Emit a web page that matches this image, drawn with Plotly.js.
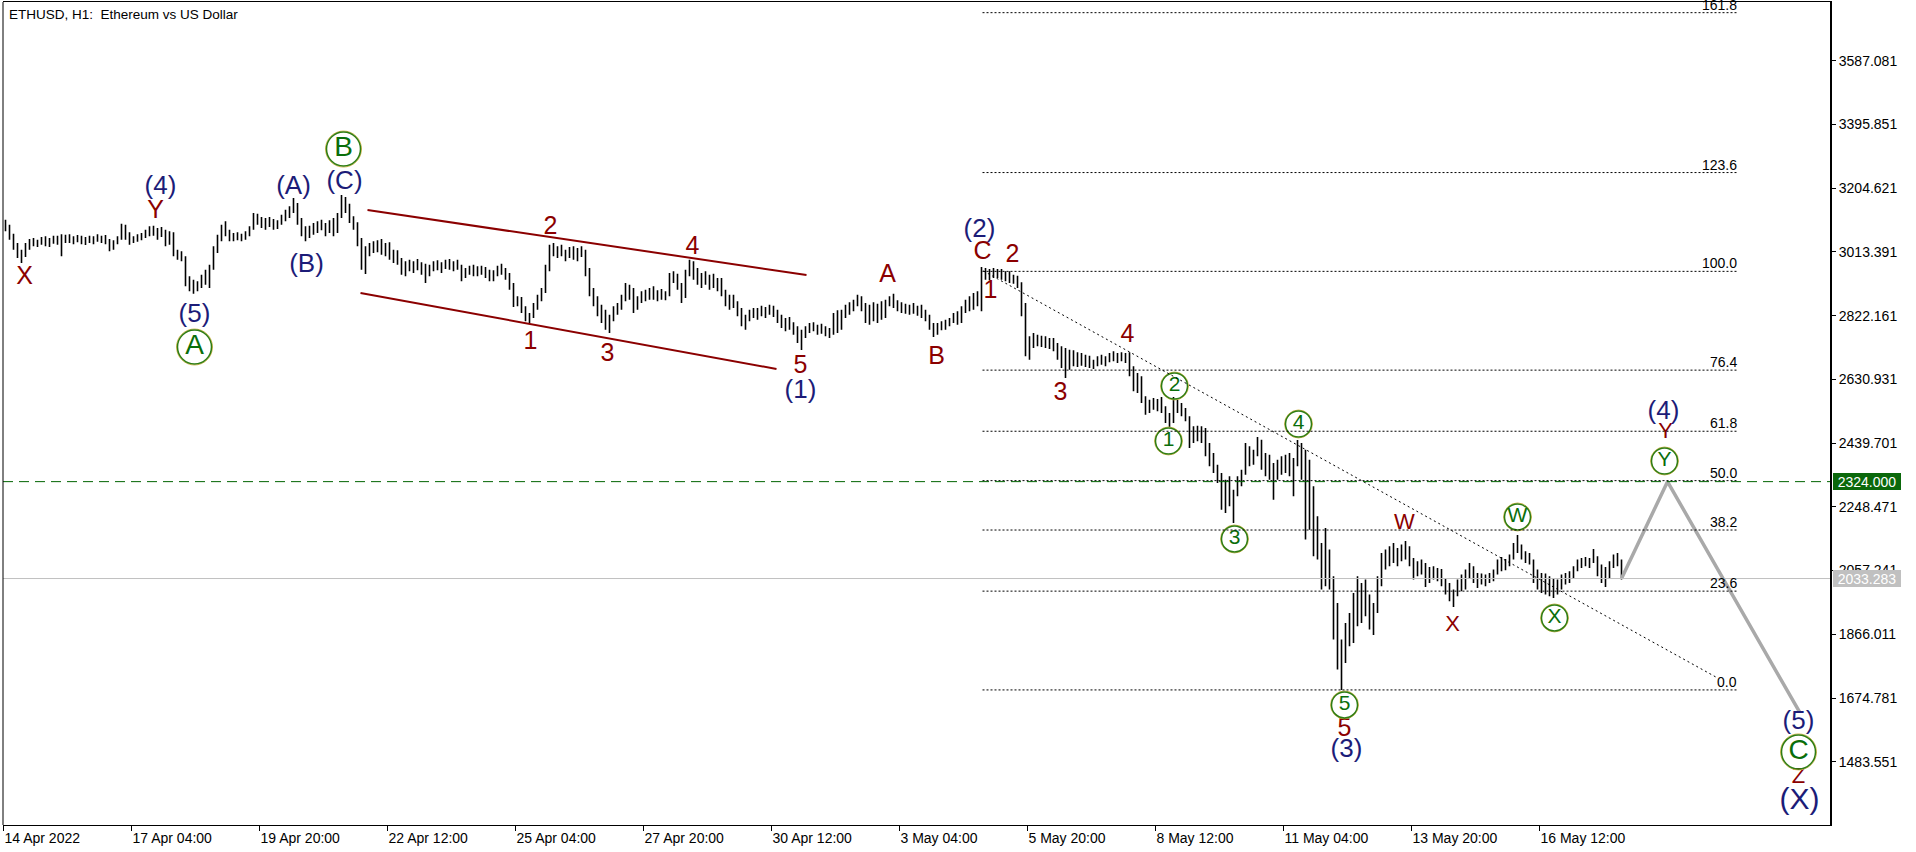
<!DOCTYPE html>
<html>
<head>
<meta charset="utf-8">
<script src="https://cdn.plot.ly/plotly-3.0.1.min.js"></script>
<style>
html,body{margin:0;padding:0;background:#ffffff;overflow:hidden;}
#chart{width:1916px;height:852px;}
</style>
</head>
<body>
<div id="chart"></div>
<script>
// ---------------- data ----------------
const chartTitle = 'ETHUSD, H1: \u00a0Ethereum vs US Dollar';

// time axis: hours since 14 Apr 2022 12:00 (one H1 bar = 1 hour)
const xTickHours = [0, 64, 128, 192, 256, 320, 384, 448, 512, 576, 640, 704, 768];
const xTickLabels = ['14 Apr 2022', '17 Apr 04:00', '19 Apr 20:00', '22 Apr 12:00', '25 Apr 04:00',
  '27 Apr 20:00', '30 Apr 12:00', '3 May 04:00', '5 May 20:00', '8 May 12:00', '11 May 04:00',
  '13 May 20:00', '16 May 12:00'];
const yTickValues = [3587.081, 3395.851, 3204.621, 3013.391, 2822.161, 2630.931, 2439.701,
  2248.471, 2057.241, 1866.011, 1674.781, 1483.551];

// price bars (each entry covers 2 hours)
const barHours = 2;
const barOpen = [
3100,3085,3060,3030,3005,3010,3030,3045,3038,3045,3050,3040,3048,3055,3042,3050,3058,3046,3052,3050,
3044,3050,3046,3054,3050,3056,3040,3030,3042,3055,3085,3060,3045,3052,3058,3062,3070,3080,3070,3075,
3066,3040,3065,3010,3005,2995,2925,2910,2900,2918,2935,2925,2965,3020,3055,3085,3070,3058,3062,3055,
3060,3070,3085,3115,3105,3095,3105,3100,3090,3100,3115,3130,3140,3150,3105,3075,3070,3085,3080,3095,
3085,3075,3100,3075,3120,3165,3145,3110,3095,3045,2990,3015,3030,3020,3040,3015,3030,3000,3010,2985,
2960,2975,2970,2978,2965,2970,2950,2968,2975,2965,2975,2980,2968,2978,2965,2945,2958,2962,2950,2960,
2955,2945,2935,2950,2965,2955,2940,2910,2865,2870,2840,2815,2825,2850,2875,2895,2960,3020,3010,3022,
3005,3010,3018,3000,3015,3005,2955,2895,2860,2835,2820,2800,2815,2840,2850,2875,2900,2880,2850,2870,
2885,2875,2895,2880,2890,2878,2885,2940,2930,2910,2880,2950,2970,2945,2930,2940,2925,2935,2915,2925,
2890,2865,2870,2855,2830,2805,2815,2830,2822,2838,2830,2842,2835,2828,2812,2795,2805,2790,2775,2755,
2765,2782,2790,2780,2785,2775,2770,2778,2815,2790,2830,2845,2850,2862,2875,2845,2815,2845,2820,2850,
2825,2860,2872,2855,2850,2845,2840,2848,2835,2845,2825,2815,2790,2775,2790,2785,2800,2808,2820,2805,
2840,2860,2845,2880,2860,2950,2945,2955,2940,2955,2938,2945,2928,2935,2915,2850,2725,2745,2755,2740,
2750,2735,2745,2725,2700,2710,2670,2705,2680,2700,2685,2695,2675,2685,2690,2680,2695,2700,2692,2702,
2695,2705,2655,2615,2630,2570,2540,2560,2548,2565,2540,2515,2505,2560,2545,2530,2515,2460,2478,2455,
2480,2420,2395,2365,2335,2270,2310,2275,2290,2330,2350,2420,2385,2410,2440,2380,2395,2350,2340,2375,
2360,2395,2355,2380,2420,2360,2250,2300,2150,2120,2030,2090,2020,1900,1800,1790,1880,1850,1960,1920,
2000,1950,1900,1940,2020,2090,2075,2115,2095,2110,2100,2120,2080,2050,2075,2060,2030,2060,2040,2055,
2025,2000,1980,1990,2020,2010,2050,2060,2030,2040,2025,2038,2035,2055,2080,2065,2085,2095,2130,2120,
2100,2090,2085,2035,2015,2040,2000,2030,1995,2020,2035,2030,2048,2062,2080,2085,2078,2090,2095,2050,
2060,2040,2078,2095,2080];
const barHigh = [
3110,3095,3068,3040,3020,3040,3052,3055,3050,3058,3060,3055,3062,3062,3066,3065,3066,3060,3064,3062,
3058,3062,3060,3066,3062,3064,3052,3048,3060,3098,3095,3072,3060,3066,3070,3080,3090,3092,3085,3088,
3080,3075,3072,3020,3015,3000,2940,2930,2925,2945,2960,2975,3030,3065,3095,3105,3080,3070,3072,3068,
3075,3090,3130,3128,3118,3115,3118,3112,3108,3125,3140,3150,3175,3160,3115,3090,3092,3100,3105,3110,
3100,3108,3115,3130,3184,3178,3158,3120,3102,3055,3030,3040,3045,3048,3052,3040,3042,3020,3018,2995,
2985,2990,2985,2992,2982,2978,2975,2985,2988,2982,2990,2992,2985,2990,2975,2965,2972,2975,2970,2972,
2968,2960,2958,2972,2978,2965,2950,2920,2880,2878,2850,2830,2860,2885,2905,2975,3035,3040,3030,3035,
3020,3028,3030,3025,3030,3020,2965,2905,2880,2855,2840,2825,2850,2860,2885,2920,2915,2905,2880,2895,
2900,2905,2910,2898,2902,2895,2950,2955,2948,2920,2960,2990,2985,2965,2950,2955,2945,2948,2935,2935,
2900,2885,2885,2865,2845,2825,2840,2845,2845,2852,2848,2855,2852,2840,2825,2815,2818,2802,2790,2780,
2790,2800,2802,2795,2798,2790,2785,2830,2838,2840,2855,2862,2870,2885,2880,2860,2855,2862,2858,2865,
2870,2880,2888,2868,2862,2858,2855,2860,2852,2855,2840,2825,2800,2800,2805,2810,2815,2830,2835,2850,
2870,2880,2890,2895,2968,2965,2962,2965,2962,2962,2955,2955,2945,2942,2922,2860,2760,2770,2765,2762,
2760,2755,2755,2740,2730,2725,2720,2718,2712,2710,2705,2702,2690,2700,2705,2700,2710,2715,2710,2712,
2710,2712,2670,2650,2640,2580,2570,2575,2572,2578,2550,2530,2578,2570,2560,2545,2520,2490,2492,2490,
2485,2440,2410,2375,2350,2330,2340,2300,2340,2360,2440,2430,2420,2458,2450,2410,2405,2380,2390,2400,
2405,2410,2395,2449,2440,2420,2390,2310,2220,2140,2185,2120,2040,1960,1850,1900,1930,1990,2040,2020,
2030,1985,1960,2040,2110,2120,2130,2140,2125,2135,2146,2130,2095,2085,2090,2080,2068,2070,2065,2062,
2035,2020,2000,2030,2045,2060,2080,2070,2050,2048,2045,2050,2060,2090,2098,2092,2105,2140,2164,2135,
2115,2110,2090,2060,2050,2048,2040,2035,2030,2045,2050,2055,2070,2090,2095,2098,2095,2122,2100,2075,
2068,2085,2105,2110,2090];
const barLow = [
3075,3050,3020,2995,2980,2998,3020,3030,3028,3035,3030,3028,3038,3035,3000,3040,3040,3036,3042,3036,
3034,3040,3036,3044,3040,3036,3015,3020,3036,3050,3050,3035,3040,3044,3048,3055,3060,3062,3050,3058,
3030,3035,3000,2990,2985,2910,2895,2888,2895,2905,2915,2905,2960,3010,3045,3060,3045,3045,3048,3045,
3050,3060,3080,3095,3085,3080,3088,3080,3082,3095,3105,3115,3130,3095,3060,3045,3055,3065,3070,3078,
3060,3070,3060,3070,3115,3130,3100,3080,3030,2960,2947,3000,3010,3012,3005,3000,2990,2980,2975,2945,
2940,2955,2950,2958,2945,2920,2940,2955,2958,2950,2962,2960,2955,2960,2925,2935,2945,2940,2940,2945,
2935,2925,2925,2940,2945,2930,2900,2848,2850,2830,2805,2800,2815,2840,2865,2890,2955,3000,2995,3000,
2985,2995,2990,2985,2998,2940,2880,2850,2820,2800,2780,2770,2805,2825,2840,2865,2870,2830,2840,2860,
2865,2870,2870,2865,2870,2868,2880,2920,2900,2860,2875,2940,2930,2915,2905,2915,2900,2905,2895,2880,
2850,2840,2845,2820,2790,2780,2805,2815,2810,2820,2815,2825,2818,2800,2785,2775,2780,2765,2740,2719,
2755,2770,2775,2765,2768,2760,2755,2765,2770,2780,2815,2825,2835,2850,2835,2800,2795,2805,2800,2810,
2815,2850,2845,2835,2830,2828,2825,2828,2822,2815,2805,2780,2758,2765,2778,2780,2790,2800,2795,2800,
2830,2835,2840,2850,2835,2930,2928,2935,2935,2930,2925,2920,2918,2905,2820,2700,2690,2725,2730,2728,
2725,2722,2715,2690,2665,2635,2660,2670,2668,2672,2668,2665,2662,2670,2675,2670,2682,2685,2680,2685,
2680,2640,2595,2590,2560,2525,2530,2540,2535,2530,2500,2488,2500,2530,2520,2505,2425,2440,2445,2440,
2400,2370,2350,2320,2240,2230,2250,2200,2280,2310,2345,2370,2375,2400,2360,2340,2330,2270,2330,2345,
2350,2340,2280,2370,2330,2150,2180,2100,2090,2000,2010,2000,1850,1760,1699,1780,1830,1840,1890,1900,
1920,1880,1864,1930,2010,2060,2070,2080,2070,2085,2090,2070,2030,2040,2045,2008,2020,2030,2025,2010,
1985,1965,1948,1980,1995,2000,2035,2020,2005,2015,2010,2020,2025,2045,2055,2058,2070,2090,2110,2090,
2080,2075,2020,2000,1990,1985,1980,1975,1985,2000,2015,2020,2035,2055,2065,2070,2065,2080,2040,2020,
2008,2035,2065,2070,2030];
const barClose = [
3085,3060,3030,3005,3010,3030,3045,3038,3045,3050,3040,3048,3055,3042,3050,3058,3046,3052,3050,3044,
3050,3046,3054,3050,3056,3040,3030,3042,3055,3085,3060,3045,3052,3058,3062,3070,3080,3070,3075,3066,
3040,3065,3010,3005,2995,2925,2910,2900,2918,2935,2925,2965,3020,3055,3085,3070,3058,3062,3055,3060,
3070,3085,3115,3105,3095,3105,3100,3090,3100,3115,3130,3140,3150,3105,3075,3070,3085,3080,3095,3085,
3075,3100,3075,3120,3165,3145,3110,3095,3045,2990,3015,3030,3020,3040,3015,3030,3000,3010,2985,2960,
2975,2970,2978,2965,2970,2950,2968,2975,2965,2975,2980,2968,2978,2965,2945,2958,2962,2950,2960,2955,
2945,2935,2950,2965,2955,2940,2910,2865,2870,2840,2815,2825,2850,2875,2895,2960,3020,3010,3022,3005,
3010,3018,3000,3015,3005,2955,2895,2860,2835,2820,2800,2815,2840,2850,2875,2900,2880,2850,2870,2885,
2875,2895,2880,2890,2878,2885,2940,2930,2910,2880,2950,2970,2945,2930,2940,2925,2935,2915,2925,2890,
2865,2870,2855,2830,2805,2815,2830,2822,2838,2830,2842,2835,2828,2812,2795,2805,2790,2775,2755,2765,
2782,2790,2780,2785,2775,2770,2778,2815,2790,2830,2845,2850,2862,2875,2845,2815,2845,2820,2850,2825,
2860,2872,2855,2850,2845,2840,2848,2835,2845,2825,2815,2790,2775,2790,2785,2800,2808,2820,2805,2840,
2860,2845,2880,2860,2950,2945,2955,2940,2955,2938,2945,2928,2935,2915,2850,2725,2745,2755,2740,2750,
2735,2745,2725,2700,2710,2670,2705,2680,2700,2685,2695,2675,2685,2690,2680,2695,2700,2692,2702,2695,
2705,2655,2615,2630,2570,2540,2560,2548,2565,2540,2515,2505,2560,2545,2530,2515,2460,2478,2455,2480,
2420,2395,2365,2335,2270,2310,2275,2290,2330,2350,2420,2385,2410,2440,2380,2395,2350,2340,2375,2360,
2395,2355,2380,2420,2360,2250,2300,2150,2120,2030,2090,2020,1900,1800,1790,1880,1850,1960,1920,2000,
1950,1900,1940,2020,2090,2075,2115,2095,2110,2100,2120,2080,2050,2075,2060,2030,2060,2040,2055,2025,
2000,1980,1990,2020,2010,2050,2060,2030,2040,2025,2038,2035,2055,2080,2065,2085,2095,2130,2120,2100,
2090,2085,2035,2015,2040,2000,2030,1995,2020,2035,2030,2048,2062,2080,2085,2078,2090,2095,2050,2060,
2040,2078,2095,2080,2033];

// Fibonacci retracement
const fibLevels = [0, 23.6, 38.2, 50, 61.8, 76.4, 100, 123.6, 161.8];
const fibLowPrice = 1699;
const fibHighPrice = 2955;
const fibHours = [489.5, 867.5];

// trend / channel / projection lines (hour, price)
const trendHours = [490, 857];
const trendPrices = [2956, 1735];
const channelUpperHours = [182, 401.5];
const channelUpperPrices = [3139, 2944];
const channelLowerHours = [178.5, 386.5];
const channelLowerPrices = [2890, 2662];
const projectionHours = [809, 832, 898];
const projectionPrices = [2033, 2324, 1633];
const targetPrice = 2324.000;
const bidPrice = 2033.283;

// wave labels: [text, hour, price]
const redLabels = [['X',10.5,2935],['Y',76,3133],['2',273.5,3085],['4',344.5,3025],['1',263.5,2740],
  ['3',302,2704],['5',398.5,2668],['A',442,2941],['B',466.5,2695],['C',489.5,3010],['2',504.5,3001],
  ['1',493.5,2893],['4',562,2761],['3',528.5,2587],['5',670.5,1579]];
const redSmallLabels = [['W',700.5,2197],['X',724.5,1891],['Y',831,2470],['Z',897.5,1435]];
const navyLabels = [['(4)',78.5,3208],['(5)',95.5,2824],['(A)',145,3208],['(B)',151.5,2974],
  ['(C)',170.5,3223],['(1)',398.5,2593],['(2)',488,3079],['(3)',671.5,1516],['(4)',830,2530],
  ['(5)',897.5,1600]];
const navyBigLabels = [['(X)',898,1363]];
const bigCircleLabels = [['A',95.5,2728],['B',170,3322],['C',897.5,1513]];
const smallCircleLabels = [['1',582.5,2446],['2',585.5,2611],['3',615.5,2152],['4',647.5,2497],
  ['5',670.5,1654],['W',757,2218],['X',775.5,1915],['Y',830.5,2386]];

// ---------------- styles ----------------
const FONT = 'Liberation Sans, Arial, sans-serif';
const RED = '#8b0000';
const NAVY = '#1c1c78';
const GREEN = '#0a6e0a';
const RING = '#2f7d14';
const RING_HALO = '#d2b850';

const barX = barOpen.map((_, k) => 1 + k * barHours);

const traces = [];
traces.push({
  type: 'ohlc', x: barX, open: barOpen, high: barHigh, low: barLow, close: barClose,
  increasing: {line: {color: '#000000', width: 1.6}},
  decreasing: {line: {color: '#000000', width: 1.6}},
  tickwidth: 0.2, hoverinfo: 'skip', showlegend: false
});
traces.push({
  type: 'scatter', mode: 'lines', x: projectionHours, y: projectionPrices,
  line: {color: '#a9a9a9', width: 3.5}, hoverinfo: 'skip', showlegend: false, cliponaxis: false
});

function textTrace(list, size, color) {
  return {
    type: 'scatter', mode: 'text', x: list.map(d => d[1]), y: list.map(d => d[2]),
    text: list.map(d => d[0]), textposition: 'middle center',
    textfont: {family: FONT, size: size, color: color},
    hoverinfo: 'skip', showlegend: false, cliponaxis: false
  };
}
function haloTrace(list, diameter) {
  return {
    type: 'scatter', mode: 'markers', x: list.map(d => d[1]), y: list.map(d => d[2]),
    marker: {symbol: 'circle-open', size: diameter + 2, color: RING_HALO, line: {color: RING_HALO, width: 1}},
    hoverinfo: 'skip', showlegend: false, cliponaxis: false
  };
}
function circleTrace(list, diameter, size) {
  return {
    type: 'scatter', mode: 'markers+text', x: list.map(d => d[1]), y: list.map(d => d[2]),
    text: list.map(d => d[0]), textposition: 'middle center',
    textfont: {family: FONT, size: size, color: GREEN},
    marker: {symbol: 'circle-open', size: diameter, color: RING, line: {color: RING, width: 1.5}},
    hoverinfo: 'skip', showlegend: false, cliponaxis: false
  };
}
traces.push(textTrace(redLabels, 25, RED));
traces.push(textTrace(redSmallLabels, 22, RED));
traces.push(textTrace(navyLabels, 26, NAVY));
traces.push(textTrace(navyBigLabels, 30, NAVY));
traces.push(haloTrace(bigCircleLabels, 34));
traces.push(haloTrace(smallCircleLabels, 26));
traces.push(circleTrace(bigCircleLabels, 34, 28));
traces.push(circleTrace(smallCircleLabels, 26, 21));

const shapes = [];
const annotations = [];
fibLevels.forEach(lv => {
  const p = fibLowPrice + (fibHighPrice - fibLowPrice) * lv / 100;
  shapes.push({type: 'line', xref: 'x', yref: 'y', x0: fibHours[0], x1: fibHours[1], y0: p, y1: p,
    line: {color: '#000000', width: 1, dash: '2px,2px'}});
  annotations.push({xref: 'x', yref: 'y', x: fibHours[1], y: p, xanchor: 'right', yanchor: 'bottom',
    yshift: -2, text: lv.toFixed(1), showarrow: false, font: {family: FONT, size: 14, color: '#000'}});
});
shapes.push({type: 'line', xref: 'x', yref: 'y', x0: trendHours[0], x1: trendHours[1],
  y0: trendPrices[0], y1: trendPrices[1], line: {color: '#000000', width: 1, dash: '2px,3px'}});
shapes.push({type: 'line', xref: 'x', yref: 'y', x0: channelUpperHours[0], x1: channelUpperHours[1],
  y0: channelUpperPrices[0], y1: channelUpperPrices[1], line: {color: RED, width: 2}});
shapes.push({type: 'line', xref: 'x', yref: 'y', x0: channelLowerHours[0], x1: channelLowerHours[1],
  y0: channelLowerPrices[0], y1: channelLowerPrices[1], line: {color: RED, width: 2}});
shapes.push({type: 'line', xref: 'paper', yref: 'y', x0: 0, x1: 1, y0: targetPrice, y1: targetPrice,
  line: {color: '#006400', width: 1, dash: '10px,6px'}});
shapes.push({type: 'line', xref: 'paper', yref: 'y', x0: 0, x1: 1, y0: bidPrice, y1: bidPrice,
  line: {color: '#c0c0c0', width: 1}});
shapes.push({type: 'line', xref: 'paper', yref: 'paper', x0: 0, x1: 0, y0: 0, y1: 1,
  line: {color: '#000000', width: 1}});

annotations.push({xref: 'paper', yref: 'paper', x: 0, y: 1, xanchor: 'left', yanchor: 'top',
  xshift: 4, yshift: -3, text: chartTitle, showarrow: false,
  font: {family: FONT, size: 13.5, color: '#000'}});
annotations.push({xref: 'paper', yref: 'y', x: 1, y: targetPrice, xanchor: 'left', yanchor: 'middle',
  xshift: 3, text: targetPrice.toFixed(3), showarrow: false, bgcolor: '#0b680b',
  width: 68, height: 17, borderpad: 0, borderwidth: 0, align: 'center',
  font: {family: FONT, size: 14, color: '#ffffff'}});
annotations.push({xref: 'paper', yref: 'y', x: 1, y: bidPrice, xanchor: 'left', yanchor: 'middle',
  xshift: 3, text: bidPrice.toFixed(3), showarrow: false, bgcolor: '#c0c0c0',
  width: 68, height: 17, borderpad: 0, borderwidth: 0, align: 'center',
  font: {family: FONT, size: 14, color: '#ffffff'}});

const layout = {
  width: 1916, height: 852,
  margin: {l: 3, r: 86, t: 2, b: 27, pad: 0},
  paper_bgcolor: '#ffffff', plot_bgcolor: '#ffffff',
  showlegend: false, hovermode: false,
  font: {family: FONT, size: 14, color: '#000000'},
  xaxis: {
    range: [-0.25, 913.25], tickmode: 'array', tickvals: xTickHours, ticktext: xTickLabels,
    ticks: 'outside', ticklen: 5, tickcolor: '#000', tickwidth: 1,
    showgrid: false, zeroline: false, showline: true, linecolor: '#000', linewidth: 1, mirror: true,
    ticklabelposition: 'outside right', rangeslider: {visible: false},
    tickfont: {family: FONT, size: 14, color: '#000'}, fixedrange: true
  },
  yaxis: {
    side: 'right', range: [1293.7, 3763.2], tickmode: 'array', tickvals: yTickValues,
    ticktext: yTickValues.map(v => v.toFixed(3)),
    ticks: 'outside', ticklen: 4, tickcolor: '#000', tickwidth: 1,
    showgrid: false, zeroline: false, showline: true, linecolor: '#000', linewidth: 2,
    tickfont: {family: FONT, size: 14, color: '#000'}, fixedrange: true
  },
  shapes: shapes,
  annotations: annotations
};

Plotly.newPlot('chart', traces, layout, {staticPlot: true, displayModeBar: false});
</script>
</body>
</html>
